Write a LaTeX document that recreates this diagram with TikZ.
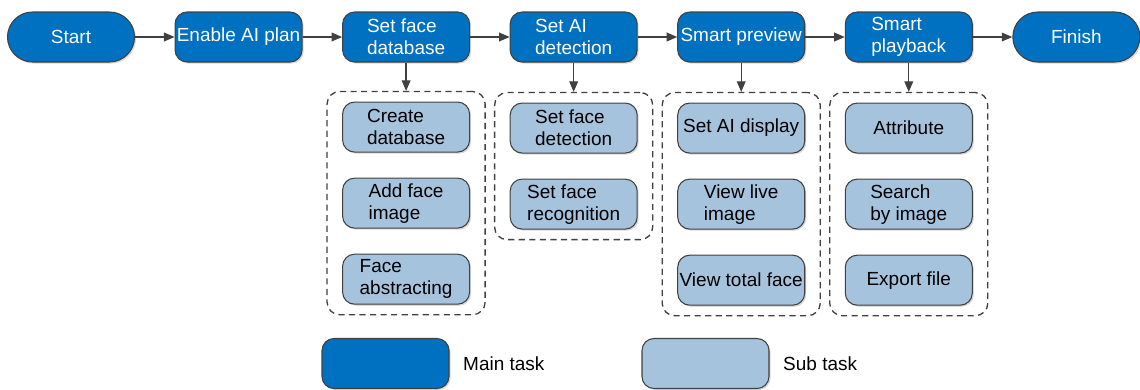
\documentclass[tikz,border=0pt]{standalone}
\usepackage{fontspec}
\setmainfont{Liberation Sans}
\usetikzlibrary{shapes.geometric, arrows.meta, positioning, fit, shadows}

\definecolor{mainblue}{RGB}{0,112,192}
\definecolor{subblue}{RGB}{166,195,222}
\definecolor{edgegray}{RGB}{64,64,64}

\begin{document}
\begin{tikzpicture}[
    node distance=0.79cm,
    font=\fontsize{10.8}{12.5}\selectfont,
    mainbox/.style={rectangle, draw=edgegray, fill=mainblue, text=white, line width=0.6pt, rounded corners=0.24cm, minimum width=2.54cm, minimum height=1cm, inner sep=1pt, align=left, drop shadow={shadow xshift=0.9pt, shadow yshift=-0.9pt, opacity=0.3}},
    endbox/.style={mainbox, rounded corners=0.5cm},
    subbox/.style={mainbox, fill=subblue, text=black},
    taskgroup/.style={draw=edgegray, line width=0.75pt, dash pattern={on 3.5pt off 2.5pt}, rounded corners=0.25cm, inner xsep=0.3cm, inner ysep=0.2cm},
    arrow/.style={-{Triangle[length=6pt, width=5pt]}, line width=0.7pt, draw=edgegray}
]
    \useasboundingbox (0,0) rectangle (22.8,-7.78);

    % main flow
    \node[endbox] (start) at (1.42,-0.74) {Start};
    \node[mainbox, right=of start] (plan) {Enable AI plan};
    \node[mainbox, right=of plan] (facedb) {Set face\\database};
    \node[mainbox, right=of facedb] (aidet) {Set AI\\detection};
    \node[mainbox, right=of aidet] (preview) {Smart preview};
    \node[mainbox, right=of preview] (playback) {Smart\\playback};
    \node[endbox, right=of playback] (finish) {Finish};

    \draw[arrow] (start) -- (plan);
    \draw[arrow] (plan) -- (facedb);
    \draw[arrow] (facedb) -- (aidet);
    \draw[arrow] (aidet) -- (preview);
    \draw[arrow] (preview) -- (playback);
    \draw[arrow] (playback) -- (finish);

    % sub tasks
    \node[subbox, below=0.78cm of facedb] (createdb) {Create\\database};
    \node[subbox, below=0.5cm of createdb] (addimg) {Add face\\image};
    \node[subbox, below=0.5cm of addimg] (abstract) {Face\\abstracting};

    \node[subbox, below=0.8cm of aidet] (facedetect) {Set face\\detection};
    \node[subbox, below=0.5cm of facedetect] (facerecog) {Set face\\recognition};

    \node[subbox, below=0.8cm of preview] (aidisplay) {Set AI display};
    \node[subbox, below=0.5cm of aidisplay] (liveimg) {View live\\image};
    \node[subbox, below=0.5cm of liveimg] (totalface) {View total face};

    \node[subbox, below=0.8cm of playback] (attr) {Attribute};
    \node[subbox, below=0.5cm of attr] (searchimg) {Search\\by image};
    \node[subbox, below=0.5cm of searchimg] (export) {Export file};

    \node[taskgroup, fit=(createdb) (abstract)] (dbgroup) {};
    \node[taskgroup, fit=(facedetect) (facerecog)] (detgroup) {};
    \node[taskgroup, fit=(aidisplay) (totalface)] (prevgroup) {};
    \node[taskgroup, fit=(attr) (export)] (playgroup) {};

    \draw[arrow] (facedb.south) -- (dbgroup.north);
    \draw[arrow] (aidet.south) -- (detgroup.north);
    \draw[arrow] (preview.south) -- (prevgroup.north);
    \draw[arrow] (playback.south) -- (playgroup.north);

    % legend
    \node[mainbox] (mainkey) at (7.71,-7.27) {};
    \node[right=0.15cm of mainkey] (mainlbl) {Main task};
    \node[subbox] (subkey) at (14.11,-7.27) {};
    \node[right=0.15cm of subkey] (sublbl) {Sub task};
\end{tikzpicture}
\end{document}
